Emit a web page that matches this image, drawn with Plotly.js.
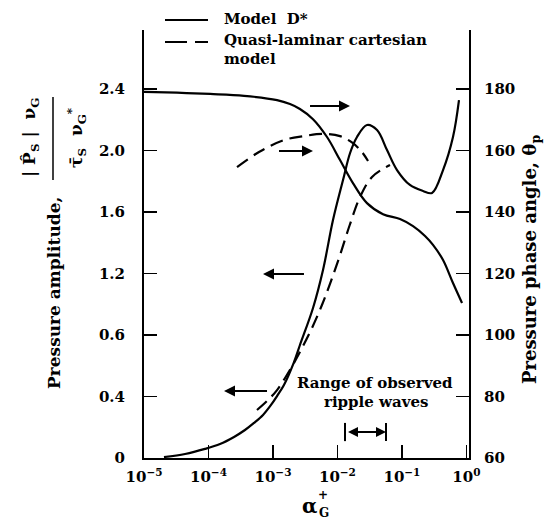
<!DOCTYPE html>
<html><head><meta charset="utf-8">
<script src="https://cdn.plot.ly/plotly-3.0.1.min.js"></script>
<style>html,body{margin:0;padding:0;background:#fff;}</style>
</head><body><div id="chart" style="width:558px;height:519px;"></div>
<script>
// ---- data ----
// Model D*: pressure amplitude (left axis)
const alphaAmpD = [2.04e-5, 4.33e-5, 8.83e-5, 1.51e-4, 2.49e-4, 3.68e-4, 5.08e-4, 7.01e-4, 9.33e-4, 1.156e-3, 1.48e-3, 2.12e-3, 2.62e-3, 4.18e-3, 5.97e-3, 8.53e-3, 0.0122, 0.0157, 0.0201, 0.0287, 0.0411, 0.0587, 0.0839, 0.133, 0.212, 0.293, 0.434, 0.619, 0.767];
const ampD      = [0.006, 0.026, 0.059, 0.091, 0.137, 0.182, 0.228, 0.280, 0.345, 0.403, 0.475, 0.624, 0.735, 0.976, 1.223, 1.548, 1.808, 1.984, 2.088, 2.166, 2.133, 2.003, 1.873, 1.776, 1.737, 1.724, 1.873, 2.088, 2.328];
// Model D*: pressure phase angle (right axis, degrees)
const alphaPhaseD = [1e-5, 3.25e-5, 1.06e-4, 3.56e-4, 1.156e-3, 1.837e-3, 2.62e-3, 4.18e-3, 6.89e-3, 0.01096, 0.0174, 0.0287, 0.0509, 0.0933, 0.1486, 0.228, 0.303, 0.434, 0.619, 0.855];
const phaseD      = [179.1, 178.8, 178.4, 177.8, 176.4, 175.1, 173.5, 170.2, 164.4, 156.9, 149.4, 142.9, 139.3, 137.7, 135.4, 132.2, 129.3, 124.4, 116.9, 110.4];
// Quasi-laminar cartesian model: amplitude (left axis)
const alphaAmpQL = [5.65e-4, 8.09e-4, 1.156e-3, 1.905e-3, 2.82e-3, 4.03e-3, 5.75e-3, 7.94e-3, 0.01096, 0.0157, 0.0224, 0.0344, 0.0653];
const ampQL      = [0.312, 0.371, 0.442, 0.585, 0.715, 0.846, 0.995, 1.151, 1.320, 1.522, 1.698, 1.828, 1.906];
// Quasi-laminar cartesian model: phase angle (right axis, degrees)
const alphaPhaseQL = [2.77e-4, 6.07e-4, 1.48e-3, 3.03e-3, 5.97e-3, 0.01096, 0.0174, 0.0240, 0.0298];
const phaseQL      = [154.6, 159.5, 163.4, 164.7, 165.4, 164.7, 162.4, 159.5, 156.6];
// Range of observed ripple waves
const rippleRange = [0.0131, 0.0566];
// ticks
const xTickVals = [1e-5, 1e-4, 1e-3, 1e-2, 1e-1, 1];
const xTickText = ['10<sup>\u22125</sup>', '10<sup>\u22124</sup>', '10<sup>\u22123</sup>', '10<sup>\u22122</sup>', '10<sup>\u22121</sup>', '10<sup>0</sup>'];
const yTickVals = [0, 0.4, 0.8, 1.2, 1.6, 2.0, 2.4];
const yTickText = ['0', '0.4', '0.6', '1.2', '1.6', '2.0', '2.4'];
const y2TickVals = [60, 80, 100, 120, 140, 160, 180];
const seriesNames = ['Model D*', 'Quasi-laminar cartesian model'];

// ---- layout helpers ----
const L = 144, R = 469, T = 30, B = 458;
const px = x => (x - L) / (R - L);
const py = y => (B - y) / (B - T);
const FONT = 'DejaVu Serif';
const bold = s => ({family: FONT, size: s, color: '#000', weight: 'bold'});
const txt = (s, x, y, o) => Object.assign({text: s, x: px(x), y: py(y), xref: 'paper', yref: 'paper',
  showarrow: false, xanchor: 'center', yanchor: 'middle', font: bold(15)}, o || {});
const lg = Math.log10;

const lineW = 2.2;
const DASH = '13px,7px';
const sm = 1.0;
const traces = [
  {x: alphaAmpD, y: ampD, mode: 'lines', name: seriesNames[0], line: {color: '#000', width: lineW, shape: 'spline', smoothing: sm}, yaxis: 'y'},
  {x: alphaPhaseD, y: phaseD, mode: 'lines', name: seriesNames[0], line: {color: '#000', width: lineW, shape: 'spline', smoothing: sm}, yaxis: 'y2'},
  {x: alphaAmpQL, y: ampQL, mode: 'lines', name: seriesNames[1], line: {color: '#000', width: lineW, dash: DASH, shape: 'spline', smoothing: sm}, yaxis: 'y'},
  {x: alphaPhaseQL, y: phaseQL, mode: 'lines', name: seriesNames[1], line: {color: '#000', width: lineW, dash: DASH, shape: 'spline', smoothing: sm}, yaxis: 'y2'},
  {x: rippleRange, y: [0.169, 0.169], mode: 'markers', marker: {symbol: 'line-ns-open', size: 13, color: '#000', line: {width: 2, color: '#000'}}, yaxis: 'y', hoverinfo: 'skip'}
];

const arrow = (xh, yh, ax) => ({x: xh, y: yh, xref: 'x', yref: 'y', ax: ax, ay: 0, axref: 'pixel', ayref: 'pixel',
  showarrow: true, arrowhead: 2, arrowsize: 1.1, arrowwidth: 2, arrowcolor: '#000', text: ' ', standoff: 0});

const annotations = [
  // legend
  txt('Model\u00a0\u00a0D*', 222, 18.5, {xanchor: 'left'}),
  txt('Quasi-laminar cartesian', 222, 40, {xanchor: 'left'}),
  txt('model', 222, 59, {xanchor: 'left'}),
  // curve pointers
  arrow(-1.805, 2.289, -43),
  arrow(-2.379, 1.997, -37),
  arrow(-3.155, 1.197, 44),
  arrow(-3.759, 0.436, 46),
  // ripple range
  {x: lg(rippleRange[1]), y: 0.169, xref: 'x', yref: 'y', axref: 'x', ayref: 'y', ax: lg(rippleRange[0]), ay: 0.169,
   showarrow: true, arrowhead: 2, arrowside: 'end+start', arrowsize: 1, arrowwidth: 2, arrowcolor: '#000', text: ' ', standoff: 0, startstandoff: 0},
  txt('Range of observed', 375, 383),
  txt('ripple waves', 376, 402),
  // left axis title
  txt('Pressure amplitude,', 54, 293, {textangle: -90, font: bold(17)}),
  txt('|\u00a0P\u0302<sub>S</sub>\u00a0|\u00a0\u00a0\u03bd<sub>G</sub>', 30, 138, {textangle: -90, font: bold(17)}),
  txt('\u03c4\u0304<sub>S</sub>\u00a0\u00a0\u03bd<sub>G</sub><sup>*</sup>', 76, 138, {textangle: -90, font: bold(17)}),
  // right axis title
  txt('Pressure phase angle, \u03b8<sub>p</sub>', 531, 260, {textangle: -90, font: bold(18)}),
  // x axis title
  txt('\u03b1', 309, 506, {font: bold(20)}),
  txt('+', 323, 495, {font: bold(12)}),
  txt('G', 324, 513, {font: bold(12)})
];

const shapes = [
  {type: 'line', xref: 'paper', yref: 'paper', x0: px(165), x1: px(208), y0: py(20), y1: py(20), line: {color: '#000', width: 2.2}},
  {type: 'line', xref: 'paper', yref: 'paper', x0: px(165), x1: px(208), y0: py(42), y1: py(42), line: {color: '#000', width: 2.2, dash: '22px,8px'}},
  {type: 'line', xref: 'paper', yref: 'paper', x0: px(53), x1: px(53), y0: py(97), y1: py(180), line: {color: '#000', width: 1.5}}
];

const tickFont = bold(15);
const layout = {
  width: 558, height: 519,
  margin: {l: L, r: 558 - R, t: T, b: 519 - B, pad: 0},
  paper_bgcolor: '#fff', plot_bgcolor: '#fff',
  showlegend: false,
  xaxis: {type: 'log', range: [-5, 0.04], tickvals: xTickVals, ticktext: xTickText, ticks: 'inside', ticklen: 13, tickwidth: 1.5,
    tickcolor: '#000', showline: true, linecolor: '#000', linewidth: 2, showgrid: false, zeroline: false, tickfont: tickFont, ticklabelstandoff: 4},
  yaxis: {range: [0, 2.784], tickvals: yTickVals, ticktext: yTickText, ticks: 'inside', ticklen: 13, tickwidth: 1.5, tickcolor: '#000',
    showline: true, linecolor: '#000', linewidth: 2, showgrid: false, zeroline: false, tickfont: tickFont, ticklabelstandoff: 14},
  yaxis2: {range: [60, 199.2], tickvals: y2TickVals, overlaying: 'y', side: 'right', ticks: 'inside', ticklen: 13, tickwidth: 1.5, tickcolor: '#000',
    showline: true, linecolor: '#000', linewidth: 2, showgrid: false, zeroline: false, tickfont: tickFont, ticklabelstandoff: 10},
  annotations: annotations,
  shapes: shapes
};
Plotly.newPlot('chart', traces, layout, {staticPlot: true, displayModeBar: false});
</script></body></html>
